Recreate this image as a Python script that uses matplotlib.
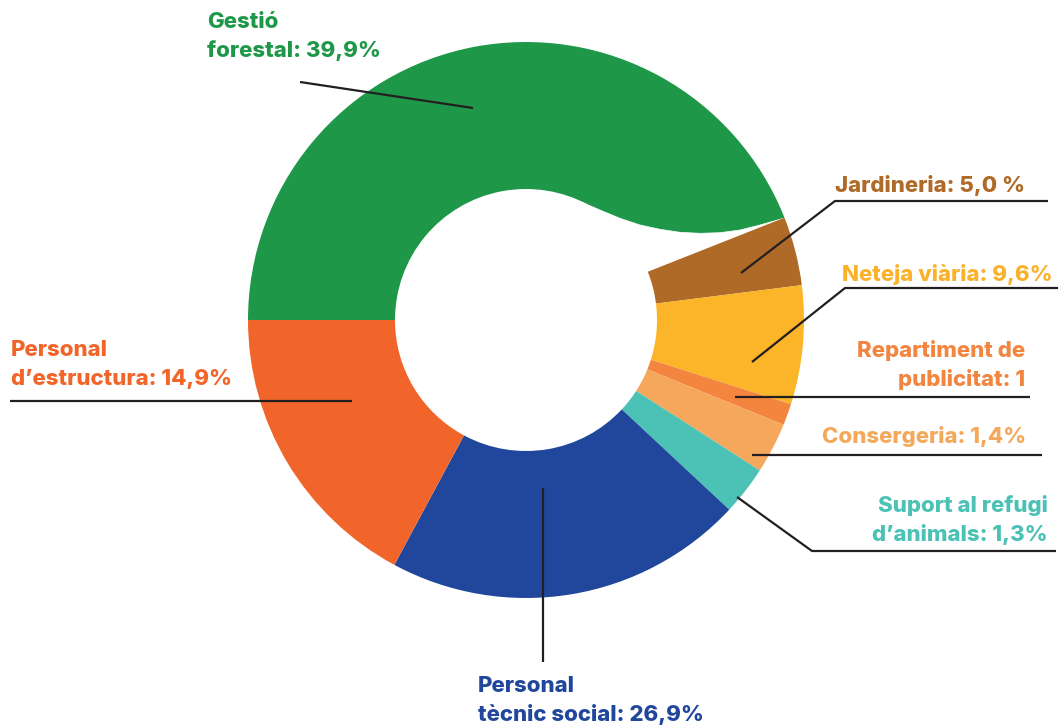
import matplotlib.pyplot as plt
from matplotlib.patches import Polygon

# slice sizes (the printed labels differ a little)
shares = [44.0, 4.0, 6.9, 1.25, 2.95, 2.85, 20.9, 17.15]
colors = ['#1E9848', '#B06A27', '#FCB428', '#F3853F', '#F5A85C', '#4CC1B5', '#21479C', '#F2652A']
labels = ['Gestió\nforestal: 39,9%',
          'Jardineria: 5,0 %',
          'Neteja viària: 9,6%',
          'Repartiment de\npublicitat: 1',
          'Consergeria: 1,4%',
          'Suport al refugi\nd’animals: 1,3%',
          'Personal\ntècnic social: 26,9%',
          'Personal\nd’estructura: 14,9%']
label_colors = ['#1E9848', '#B06A27', '#FBB22A', '#F28540', '#F5A85A', '#4CC1B5', '#21479C', '#F2652A']

W, H = 1060, 726
cx, cy = 526, H - 320
R, r_in = 278, 131

plt.rcParams['font.family'] = ['Inter', 'Lato', 'DejaVu Sans']

fig = plt.figure(figsize=(W / 100, H / 100), dpi=100)
ax = fig.add_axes([0, 0, 1, 1])

wedges, _ = ax.pie(shares, colors=colors, startangle=180, counterclock=False,
                   radius=R, center=(cx, cy),
                   wedgeprops=dict(width=R - r_in, linewidth=0))
for w in wedges[1:]:
    w.set_zorder(2)

# the white scoop cut out of the green ring on its right-hand end
scoop = [(580, 201.5), (600, 210), (620, 218.3), (640, 225), (660, 229.3),
         (680, 232.3), (700, 233.3), (720, 232.7), (740, 230), (760, 225),
         (780, 219.3), (784, 218.3)]
pts = [(cx, cy)] + [(x, H - y) for x, y in scoop]
ax.add_patch(Polygon(pts, closed=True, facecolor='white', edgecolor='white',
                     linewidth=0.5, zorder=1.5))

ax.set_xlim(0, W)
ax.set_ylim(0, H)
ax.set_aspect('equal')
ax.axis('off')

# label placement: (x, first baseline, alignment) in pixels from top-left
spots = [(207, 28, 'left'), (835, 192, 'left'), (842, 281, 'left'),
         (1025, 357, 'right'), (822, 443, 'left'), (1048, 512, 'right'),
         (478, 692, 'left'), (11, 356, 'left')]
line_h = 29
for lab, col, (x, y, ha) in zip(labels, label_colors, spots):
    for i, line in enumerate(lab.split('\n')):
        ax.text(x, H - (y + i * line_h), line, color=col, fontsize=16,
                fontweight='heavy', ha=ha, va='baseline', zorder=4)

# leader lines
leaders = [[(300, 82), (473, 108)],
           [(741, 273), (835, 201), (1048, 201)],
           [(752, 362), (845, 288), (1058, 288)],
           [(735, 397), (1030, 397)],
           [(752, 455), (1042, 455)],
           [(737, 497), (812, 551), (1056, 551)],
           [(543, 488), (543, 662)],
           [(10, 401), (352, 401)]]
for seg in leaders:
    xs = [p[0] for p in seg]
    ys = [H - p[1] for p in seg]
    ax.plot(xs, ys, color='#231F20', lw=1.6, solid_capstyle='butt', zorder=3)

fig.savefig('out.png', dpi=100)
